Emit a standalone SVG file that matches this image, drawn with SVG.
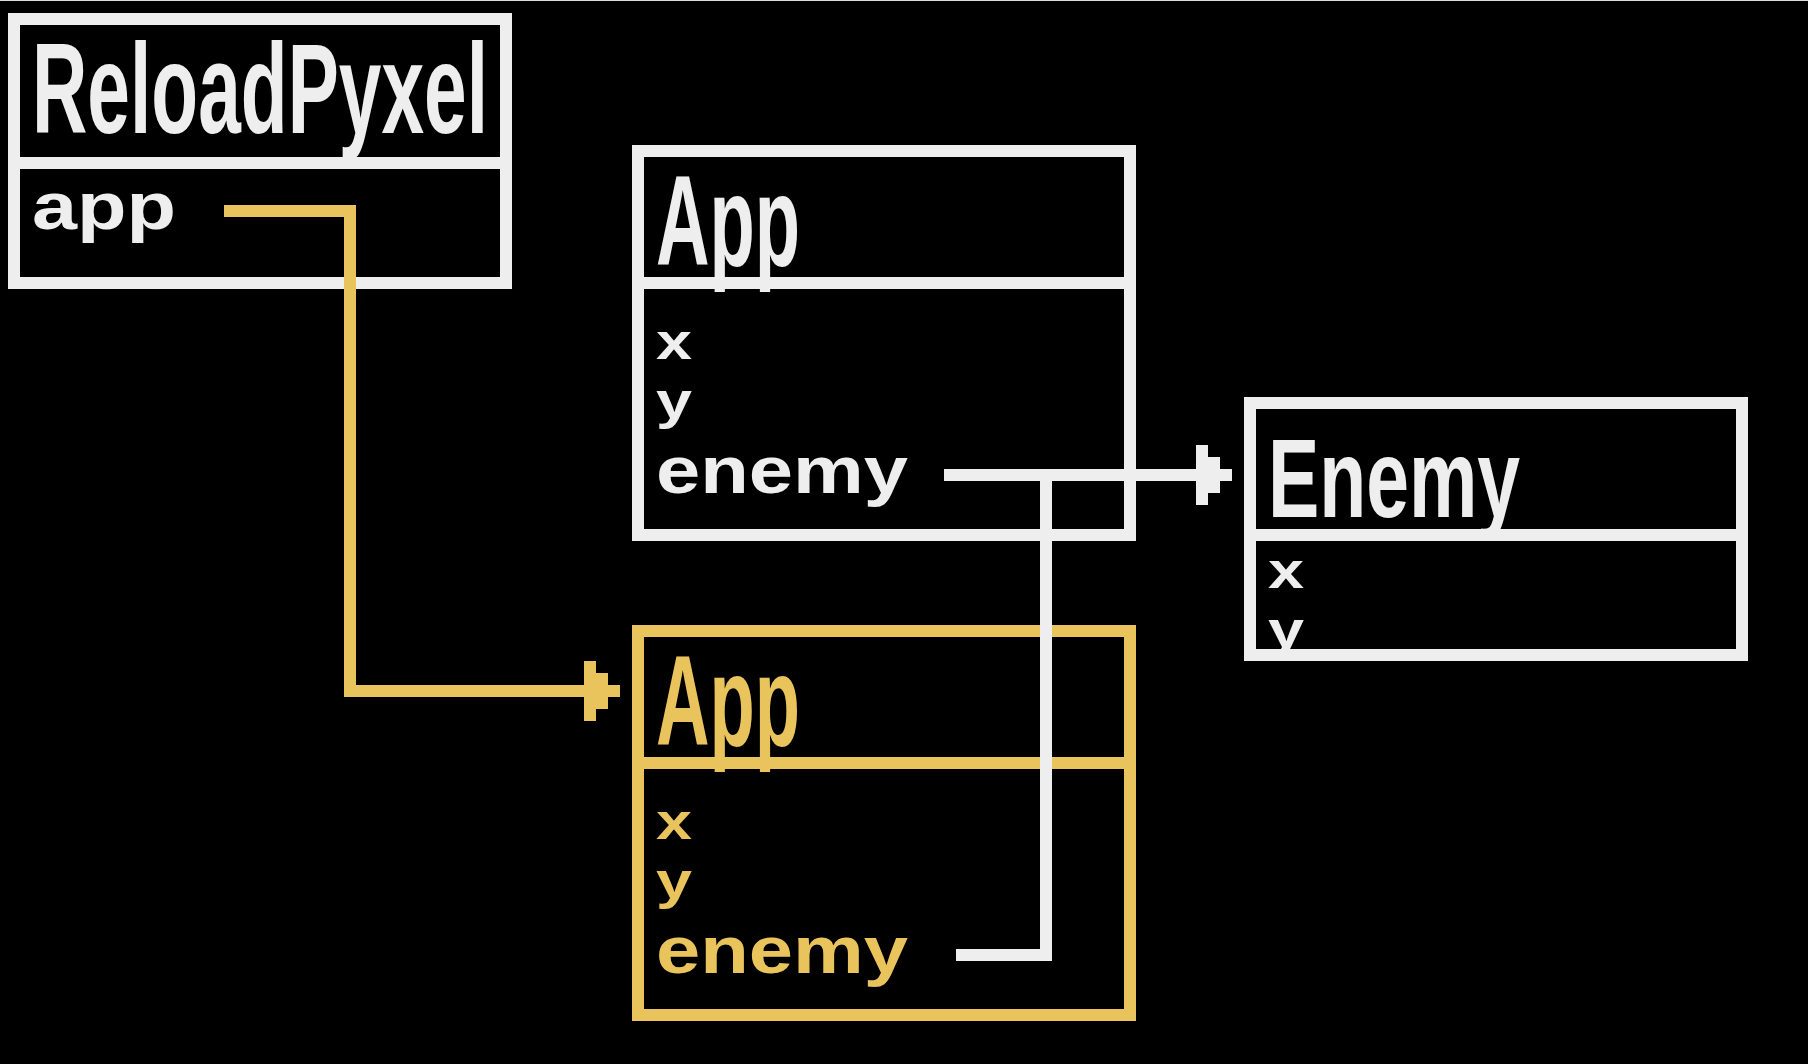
<svg xmlns="http://www.w3.org/2000/svg" width="1808" height="1064" viewBox="0 0 1808 1064">
<style>
.bg{fill:#000}
.box{fill:#000;stroke-width:12}
.w{stroke:#eeeeee}
.yl{stroke:#e9c45c}
.divw{fill:#eeeeee}
.divy{fill:#e9c45c}
.t{font-family:"Liberation Sans","DejaVu Sans",Arial,sans-serif;font-weight:bold}
.title{font-size:128px}
.etitle{font-size:112px}
.field{font-size:66px}
.fxy{font-size:52px}
.tw{fill:#eeeeee}
.ty{fill:#e9c45c}
.conn{fill:none;stroke-width:12;stroke-linecap:butt;stroke-linejoin:miter}
</style>
<defs>
<marker id="arrW" markerUnits="userSpaceOnUse" viewBox="-40 -32 40 64" markerWidth="40" markerHeight="64" refX="0" refY="0" orient="auto" overflow="visible">
<path d="M-36,-30H-24V-18H-12V-6H0V6H-12V18H-24V30H-36Z" fill="#eeeeee"/>
</marker>
<marker id="arrY" markerUnits="userSpaceOnUse" viewBox="-40 -32 40 64" markerWidth="40" markerHeight="64" refX="0" refY="0" orient="auto" overflow="visible">
<path d="M-36,-30H-24V-18H-12V-6H0V6H-12V18H-24V30H-36Z" fill="#e9c45c"/>
</marker>
</defs>
<rect class="bg" x="0" y="0" width="1808" height="1064"/>
<rect x="0" y="0" width="1808" height="1" fill="#dddddd"/>

<g id="node-reloadpyxel">
<rect class="box w" x="14" y="19" width="492" height="264"/>
<rect class="divw" x="8" y="157" width="504" height="12"/>
<text class="t title tw" x="32" y="133" textLength="456" lengthAdjust="spacingAndGlyphs">ReloadPyxel</text>
<text class="t field tw" x="32" y="229" textLength="144" lengthAdjust="spacingAndGlyphs">app</text>
</g>

<g id="node-app-1">
<rect class="box w" x="638" y="151" width="492" height="384"/>
<rect class="divw" x="632" y="277" width="504" height="12"/>
<text class="t title tw" x="656" y="265" textLength="144" lengthAdjust="spacingAndGlyphs">App</text>
<text class="t fxy tw" x="656" y="359" textLength="36" lengthAdjust="spacingAndGlyphs">x</text>
<text class="t fxy tw" x="656" y="418" textLength="36" lengthAdjust="spacingAndGlyphs">y</text>
<text class="t field tw" x="656" y="493" textLength="252" lengthAdjust="spacingAndGlyphs">enemy</text>
</g>

<g id="node-app-2">
<rect class="box yl" x="638" y="631" width="492" height="384"/>
<rect class="divy" x="632" y="757" width="504" height="12"/>
<text class="t title ty" x="656" y="745" textLength="144" lengthAdjust="spacingAndGlyphs">App</text>
<text class="t fxy ty" x="656" y="839" textLength="36" lengthAdjust="spacingAndGlyphs">x</text>
<text class="t fxy ty" x="656" y="898" textLength="36" lengthAdjust="spacingAndGlyphs">y</text>
<text class="t field ty" x="656" y="973" textLength="252" lengthAdjust="spacingAndGlyphs">enemy</text>
</g>

<g id="node-enemy">
<rect class="box w" x="1250" y="403" width="492" height="252"/>
<rect class="divw" x="1244" y="529" width="504" height="12"/>
<text class="t etitle tw" x="1268" y="517" textLength="252" lengthAdjust="spacingAndGlyphs">Enemy</text>
<text class="t fxy tw" x="1268" y="588" textLength="36" lengthAdjust="spacingAndGlyphs">x</text>
<text class="t fxy tw" x="1268" y="647" textLength="36" lengthAdjust="spacingAndGlyphs">y</text>
</g>

<g id="connectors">
<path class="conn w" d="M944 475H1232" marker-end="url(#arrW)"/>
<path class="conn w" d="M956 955H1046V475H1232" marker-end="url(#arrW)"/>
<path class="conn yl" d="M224 211H350V691H620" marker-end="url(#arrY)"/>
</g>
</svg>
